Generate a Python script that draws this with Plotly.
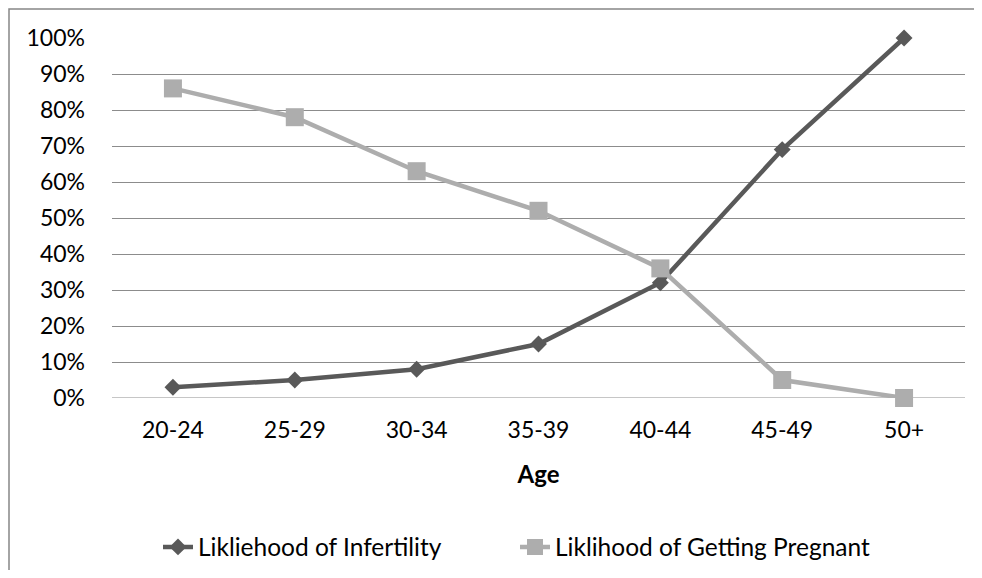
import plotly.graph_objects as go

ages = ["20-24", "25-29", "30-34", "35-39", "40-44", "45-49", "50+"]
infertility = [3, 5, 8, 15, 32, 69, 100]
pregnant = [86, 78, 63, 52, 36, 5, 0]
y_ticks = [0, 10, 20, 30, 40, 50, 60, 70, 80, 90, 100]
y_labels = [f"{v}%" for v in y_ticks]

FONT = "Lato"
OFF = 8  # page body margin
W, H = 982 - 2 * OFF, 578 - 2 * OFF
# target plot area in screen pixels: x 112..965, y 38..398
L = 112 - OFF
T = 38 - OFF
R = W - (965 - OFF)
B = H - (398 - OFF)
pw, ph = W - L - R, H - T - B


def px_x(sx):
    return (sx - 112) / pw


def px_y(sy):
    return (398 - sy) / ph


border_path = "M {x0},{y0} L {x0},{y1} L {x1},{y1}".format(
    x0=px_x(9), y0=px_y(600), y1=px_y(9), x1=px_x(1000))

fig = go.Figure()
fig.add_trace(go.Scatter(
    x=ages, y=infertility, name="Likliehood of Infertility", mode="lines+markers",
    line=dict(color="#595959", width=4.5),
    marker=dict(symbol="diamond", size=13, color="#595959"),
    cliponaxis=False,
))
fig.add_trace(go.Scatter(
    x=ages, y=pregnant, name="Liklihood of Getting Pregnant", mode="lines+markers",
    line=dict(color="#ADADAD", width=4.5),
    marker=dict(symbol="square", size=18, color="#ADADAD"),
    cliponaxis=False,
))

fig.update_layout(
    width=W, height=H,
    margin=dict(l=L, r=R, t=T, b=B, autoexpand=False),
    paper_bgcolor="white", plot_bgcolor="white",
    font=dict(family=FONT, size=23, color="#000000"),
    showlegend=True,
    legend=dict(orientation="h", x=px_x(158), xanchor="left", y=px_y(547), yanchor="middle",
                font=dict(size=24.5), entrywidth=312, traceorder="normal"),
    xaxis=dict(
        type="category", range=[-0.5, 6.5], showgrid=False, zeroline=False,
        showline=False, ticks="", ticklabelstandoff=16, automargin=False,
        title=dict(text="<b>Age</b>", font=dict(size=24), standoff=24),
    ),
    yaxis=dict(
        range=[0, 100], tickvals=y_ticks, ticktext=y_labels, automargin=False,
        showgrid=True, gridcolor="#8C8C8C", gridwidth=1,
        zeroline=False, showline=False, ticks="", ticklabelstandoff=26,
    ),
    shapes=[dict(
        type="path", xref="paper", yref="paper", path=border_path,
        line=dict(color="#868686", width=1.5), layer="below",
    ), dict(
        type="line", xref="paper", yref="y", x0=0, x1=1, y0=0, y1=0,
        line=dict(color="#8C8C8C", width=1), layer="below",
    )],
)

fig.write_html("out.html")
